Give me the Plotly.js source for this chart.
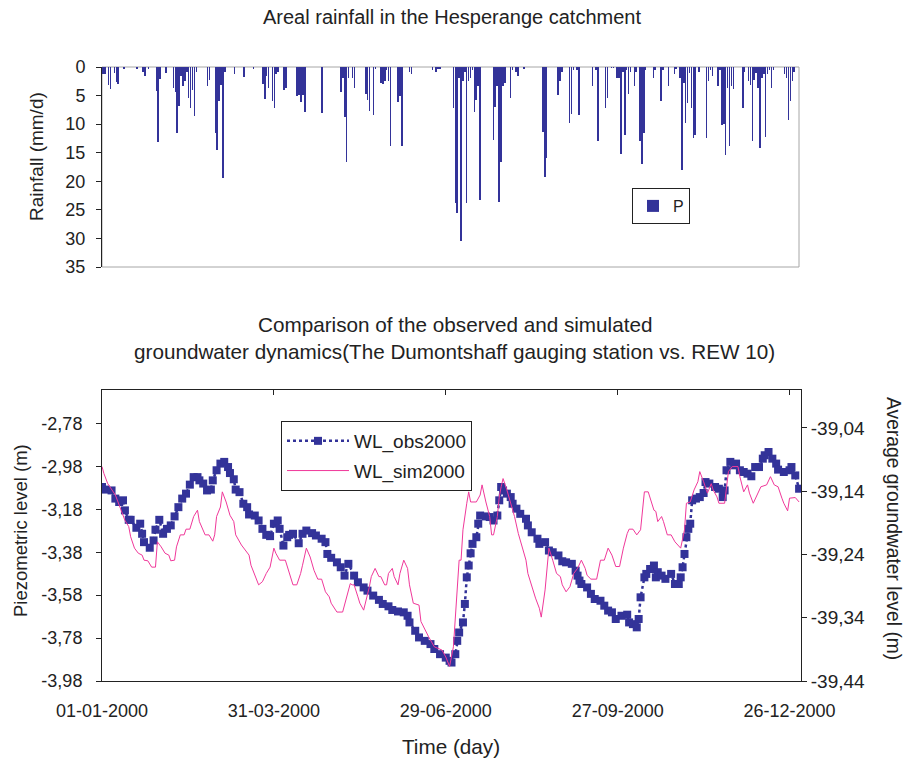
<!DOCTYPE html>
<html>
<head>
<meta charset="utf-8">
<script src="https://cdn.plot.ly/plotly-3.0.1.min.js"></script>
<style>html,body{margin:0;padding:0;background:#fff;}#chart{width:908px;height:759px;}</style>
</head>
<body>
<div id="chart"></div>
<script>
// ---- Rainfall (day offset from 01-01-2000, mm/d) ----
const rainDay = [0,1,3,4,6,7,8,11,18,21,22,24,28,29,30,33,37,38,39,40,41,42,43,44,45,46,47,48,49,55,56,59,60,61,62,63,64,69,74,79,84,85,86,87,89,90,91,92,95,96,102,103,104,105,106,115,125,126,127,128,129,131,132,138,139,140,142,143,146,147,148,149,150,151,155,156,157,161,162,173,175,176,177,184,185,186,187,188,189,190,191,192,193,194,195,196,197,198,205,206,207,208,209,210,211,214,215,217,218,221,231,232,233,239,240,241,245,246,247,249,250,257,259,260,264,265,267,268,270,271,272,273,274,275,276,277,279,280,282,283,284,285,289,290,293,294,297,300,301,303,304,305,306,307,308,309,310,311,313,317,318,319,320,323,324,325,326,327,328,329,330,331,336,337,339,340,341,342,343,344,345,346,347,348,349,350,351,352,358,359,360,361,362,363];
const rainVal = [1.3,1.3,3.2,3.9,1.0,2.7,2.9,0.3,0.3,0.8,1.6,0.3,4.2,13.2,2.1,1.1,3.7,4.4,11.6,6.8,1.5,3.4,2.5,0.8,5.4,7.2,4.0,8.5,0.8,3.4,2.3,11.6,14.5,5.9,3.1,19.4,0.8,1.3,1.8,0.3,2.9,5.6,1.6,3.6,5.9,7.2,1.3,0.8,4.1,3.7,5.1,4.9,6.2,4.9,7.8,8.0,4.4,1.9,8.8,16.6,1.9,1.9,3.7,4.7,5.7,7.7,8.4,0.4,2.8,3.0,2.5,0.5,2.4,13.9,6.2,5.1,13.9,0.8,1.3,0.5,0.8,0.3,0.3,7.2,23.8,25.5,1.9,30.4,2.5,0.8,23.8,2.5,1.9,0.5,7.8,5.7,3.4,23.3,12.8,7.0,3.4,23.6,16.6,3.4,2.8,5.4,0.5,0.8,1.6,0.3,11.3,19.2,16.0,4.9,2.4,0.8,9.8,8.3,0.5,0.5,8.4,3.4,0.5,13.0,7.2,5.4,0.2,0.2,2.0,2.0,15.3,0.8,11.9,0.5,4.7,0.8,3.4,0.8,12.9,17.0,11.6,0.6,2.0,0.5,5.9,0.5,3.4,1.3,0.3,1.9,18.0,2.8,9.8,6.3,1.1,7.2,12.5,11.9,0.8,12.5,2.5,0.5,1.6,3.4,0.5,10.1,10.0,15.4,3.7,13.9,3.4,3.8,7.2,0.8,2.5,3.1,12.9,2.2,1.1,3.7,14.2,1.9,1.3,12.3,1.3,0.5,3.7,0.5,1.3,1.9,9.2,6.0,2.5,0.8];

// ---- Observed piezometric level (m) ----
const obsDay = [0,2,5,7,9,11,12,14,15,18,20,21,22,25,27,28,30,32,34,36,38,40,42,44,46,48,50,51,53,55,57,58,60,62,64,66,67,69,70,72,74,76,77,80,82,84,86,88,90,92,93,95,97,98,100,103,105,107,110,112,115,117,118,120,123,125,127,129,132,134,137,139,142,145,147,150,152,155,158,160,161,164,166,169,172,174,177,180,182,183,185,186,187,189,190,191,192,193,194,196,197,198,201,203,205,207,208,209,210,212,214,215,217,219,222,223,225,228,229,232,234,236,239,241,243,246,248,249,250,251,254,256,258,261,263,265,267,269,272,275,276,278,280,281,282,284,285,287,289,290,291,293,295,298,300,302,303,304,305,306,307,308,309,311,313,315,316,318,321,323,325,326,327,329,331,332,334,336,338,340,342,344,346,347,349,351,353,354,357,360,361,363,365];
const obsVal = [-3.076,-3.088,-3.092,-3.130,-3.146,-3.138,-3.185,-3.229,-3.229,-3.266,-3.247,-3.294,-3.333,-3.359,-3.325,-3.275,-3.229,-3.294,-3.271,-3.255,-3.213,-3.170,-3.130,-3.107,-3.065,-3.030,-3.030,-3.045,-3.060,-3.092,-3.088,-3.045,-2.998,-2.967,-2.959,-2.983,-3.011,-3.040,-3.088,-3.100,-3.154,-3.170,-3.204,-3.209,-3.232,-3.271,-3.299,-3.305,-3.247,-3.232,-3.271,-3.349,-3.310,-3.299,-3.294,-3.338,-3.294,-3.279,-3.291,-3.302,-3.317,-3.333,-3.388,-3.406,-3.427,-3.450,-3.489,-3.434,-3.489,-3.520,-3.544,-3.559,-3.582,-3.602,-3.621,-3.632,-3.649,-3.656,-3.660,-3.676,-3.707,-3.746,-3.777,-3.793,-3.808,-3.831,-3.855,-3.871,-3.886,-3.894,-3.855,-3.793,-3.754,-3.707,-3.621,-3.497,-3.442,-3.385,-3.341,-3.310,-3.247,-3.209,-3.213,-3.216,-3.232,-3.209,-3.138,-3.076,-3.092,-3.107,-3.123,-3.154,-3.177,-3.201,-3.224,-3.255,-3.287,-3.317,-3.341,-3.333,-3.372,-3.380,-3.395,-3.422,-3.427,-3.434,-3.466,-3.489,-3.512,-3.528,-3.544,-3.574,-3.598,-3.606,-3.629,-3.652,-3.660,-3.691,-3.676,-3.671,-3.707,-3.715,-3.730,-3.691,-3.590,-3.497,-3.481,-3.458,-3.442,-3.497,-3.473,-3.489,-3.504,-3.481,-3.528,-3.528,-3.497,-3.450,-3.388,-3.310,-3.271,-3.247,-3.138,-3.130,-3.123,-3.104,-3.053,-3.060,-3.076,-3.084,-3.123,-3.092,-2.998,-2.959,-2.975,-2.967,-2.998,-3.006,-3.014,-3.026,-2.983,-2.983,-2.944,-2.928,-2.913,-2.944,-2.967,-2.995,-3.006,-2.998,-2.983,-3.022,-3.084];

// ---- Simulated average groundwater level (m) ----
const simDay = [0,1,3,5,7,8,10,12,14,15,17,19,21,22,24,26,28,29,31,33,35,36,38,39,41,43,44,46,48,50,51,54,56,58,59,60,62,63,65,67,69,70,73,75,77,78,80,82,84,86,88,90,91,93,96,98,100,102,104,105,107,109,111,113,115,117,119,120,123,126,128,130,131,132,134,135,137,138,140,141,143,145,146,148,149,150,152,153,155,156,158,160,161,163,166,167,170,171,174,176,178,180,182,184,185,187,188,189,191,192,193,196,198,199,201,203,204,205,207,208,209,210,212,214,216,218,220,222,223,225,227,229,230,232,233,234,236,238,240,241,243,245,247,249,251,253,254,256,259,261,263,265,267,269,271,273,275,276,278,280,282,284,286,289,290,291,293,294,296,298,300,303,305,306,308,310,312,313,315,317,319,320,322,323,326,327,328,330,333,334,336,338,339,341,343,345,348,350,352,354,356,357,359,360,363,365];
const simVal = [-39.101,-39.112,-39.128,-39.138,-39.146,-39.154,-39.170,-39.186,-39.196,-39.212,-39.230,-39.238,-39.241,-39.249,-39.250,-39.260,-39.260,-39.220,-39.228,-39.238,-39.241,-39.250,-39.249,-39.228,-39.209,-39.209,-39.200,-39.200,-39.180,-39.170,-39.188,-39.209,-39.209,-39.219,-39.209,-39.180,-39.165,-39.141,-39.157,-39.178,-39.188,-39.209,-39.225,-39.233,-39.241,-39.257,-39.273,-39.288,-39.283,-39.270,-39.260,-39.230,-39.238,-39.249,-39.249,-39.267,-39.288,-39.288,-39.270,-39.257,-39.230,-39.244,-39.265,-39.279,-39.279,-39.299,-39.307,-39.317,-39.331,-39.331,-39.307,-39.286,-39.288,-39.288,-39.307,-39.317,-39.328,-39.317,-39.291,-39.275,-39.262,-39.275,-39.275,-39.288,-39.288,-39.270,-39.262,-39.275,-39.288,-39.270,-39.249,-39.262,-39.288,-39.317,-39.320,-39.346,-39.365,-39.370,-39.386,-39.389,-39.391,-39.402,-39.417,-39.386,-39.339,-39.249,-39.249,-39.201,-39.159,-39.141,-39.157,-39.157,-39.146,-39.130,-39.157,-39.180,-39.209,-39.209,-39.180,-39.149,-39.133,-39.120,-39.138,-39.159,-39.180,-39.207,-39.228,-39.249,-39.270,-39.291,-39.309,-39.325,-39.339,-39.296,-39.259,-39.230,-39.249,-39.270,-39.275,-39.288,-39.299,-39.291,-39.270,-39.262,-39.249,-39.262,-39.273,-39.279,-39.279,-39.249,-39.249,-39.230,-39.241,-39.259,-39.259,-39.230,-39.207,-39.200,-39.200,-39.209,-39.201,-39.141,-39.141,-39.170,-39.172,-39.188,-39.180,-39.188,-39.209,-39.209,-39.220,-39.230,-39.201,-39.159,-39.157,-39.138,-39.125,-39.109,-39.125,-39.143,-39.128,-39.138,-39.149,-39.159,-39.159,-39.138,-39.109,-39.101,-39.101,-39.117,-39.141,-39.130,-39.143,-39.159,-39.146,-39.133,-39.130,-39.117,-39.130,-39.133,-39.151,-39.159,-39.171,-39.151,-39.150,-39.157];

// ---- Axis tick values ----
const rainTicks = [0,5,10,15,20,25,30,35];
const leftTicks = [-3.98,-3.78,-3.58,-3.38,-3.18,-2.98,-2.78];
const rightTicks = [-39.44,-39.34,-39.24,-39.14,-39.04];
const dateTickDays = [0,90,180,270,360];

const DAY = 86400000;
const T0 = Date.UTC(2000,0,1);
const toMs = d => T0 + d*DAY;
const comma = v => v.toFixed(2).replace('.', ',');

const W = 908, H = 759;
const px = x => x / W;
const py = y => 1 - y / H;

const FONT = 'Liberation Sans, Arial, Helvetica, sans-serif';
const TXT = '#222222';
const NAVY = '#333399';
const PINK = '#f0389a';

const traces = [
  {
    type: 'bar', name: 'P', x: rainDay.map(toMs), y: rainVal,
    xaxis: 'x', yaxis: 'y', legend: 'legend2',
    width: 0.8*DAY, marker: {color: NAVY, line: {width: 0}},
    hoverinfo: 'x+y'
  },
  {
    type: 'scatter', mode: 'lines+markers', name: 'WL_obs2000',
    x: obsDay.map(toMs), y: obsVal, xaxis: 'x2', yaxis: 'y2', legend: 'legend', legendgroup: 'g1',
    line: {color: NAVY, width: 2.5, dash: 'dot'},
    marker: {symbol: 'square', size: 8, color: NAVY}
  },
  {
    type: 'scatter', mode: 'lines', name: 'WL_sim2000',
    x: simDay.map(toMs), y: simVal, xaxis: 'x3', yaxis: 'y3', legend: 'legend', legendgroup: 'g2',
    line: {color: PINK, width: 1}
  }
];

const axBase = {showgrid: false, zeroline: false, tickfont: {family: FONT, size: 18, color: TXT}};

const layout = {
  width: W, height: H,
  margin: {l: 0, r: 0, t: 0, b: 0, autoexpand: false},
  paper_bgcolor: '#ffffff', plot_bgcolor: 'rgba(0,0,0,0)',
  font: {family: FONT, size: 18, color: TXT},
  bargap: 0,
  xaxis: Object.assign({}, axBase, {
    domain: [px(102), px(799)], anchor: 'y', type: 'date',
    range: [toMs(-0.5), toMs(365.5)], showticklabels: false, ticks: '', showline: false
  }),
  yaxis: Object.assign({}, axBase, {
    domain: [py(267), py(67)], anchor: 'x', range: [35, 0],
    tickvals: rainTicks, ticktext: rainTicks.map(String),
    ticks: 'outside', ticklen: 5, tickcolor: TXT, showline: true, linecolor: TXT, linewidth: 1,
    ticklabelstandoff: 7
  }),
  xaxis2: Object.assign({}, axBase, {
    domain: [px(102), px(801)], anchor: 'y2', type: 'date',
    range: [toMs(0), toMs(366)], tickvals: dateTickDays.map(toMs), tickformat: '%d-%m-%Y',
    ticks: '', showline: true, linecolor: TXT, linewidth: 1, ticklabelstandoff: 13
  }),
  xaxis3: Object.assign({}, axBase, {
    overlaying: 'x2', anchor: 'y2', side: 'top', type: 'date',
    range: [toMs(0), toMs(366)], tickvals: dateTickDays.map(toMs),
    ticks: 'inside', ticklen: 5, tickcolor: TXT, showticklabels: false,
    showline: true, linecolor: TXT, linewidth: 1
  }),
  yaxis2: Object.assign({}, axBase, {
    domain: [py(681), py(390)], anchor: 'x2', range: [-3.98, -2.624],
    tickvals: leftTicks, ticktext: leftTicks.map(comma),
    ticks: 'outside', ticklen: 5, tickcolor: TXT, showline: true, linecolor: TXT, linewidth: 1,
    ticklabelstandoff: 10
  }),
  yaxis3: Object.assign({}, axBase, {
    overlaying: 'y2', anchor: 'x2', side: 'right', range: [-39.44, -38.98],
    tickvals: rightTicks, ticktext: rightTicks.map(comma),
    tickfont: {family: FONT, size: 19, color: TXT},
    ticks: 'outside', ticklen: 5, tickcolor: TXT, showline: true, linecolor: TXT, linewidth: 1,
    ticklabelstandoff: 0
  }),
  showlegend: true,
  legend: {
    x: px(281), y: py(421), xanchor: 'left', yanchor: 'top',
    bgcolor: '#ffffff', bordercolor: TXT, borderwidth: 1,
    font: {family: FONT, size: 19, color: TXT}, tracegroupgap: 2, itemwidth: 62
  },
  legend2: {
    x: px(632), y: py(188), xanchor: 'left', yanchor: 'top',
    bgcolor: '#ffffff', bordercolor: TXT, borderwidth: 1,
    font: {family: FONT, size: 16, color: TXT}, itemwidth: 30
  },
  shapes: [
    {type: 'rect', xref: 'paper', yref: 'paper', x0: px(102), x1: px(799), y0: py(267), y1: py(67),
     line: {color: '#a6a6a6', width: 1}, fillcolor: 'rgba(0,0,0,0)', layer: 'below'}
  ],
  annotations: [
    {text: 'Areal rainfall in the Hesperange catchment', x: px(452), y: py(17), size: 20},
    {text: 'Comparison of the observed and simulated', x: px(455), y: py(324), size: 20.7},
    {text: 'groundwater dynamics(The Dumontshaff gauging station vs. REW 10)', x: px(455), y: py(351), size: 20.7},
    {text: 'Rainfall (mm/d)', x: px(36), y: py(157), textangle: -90, size: 19},
    {text: 'Piezometric level (m)', x: px(20), y: py(531), textangle: -90, size: 18.5},
    {text: 'Average groundwater level (m)', x: px(894), y: py(528), textangle: 90, size: 19.3},
    {text: 'Time (day)', x: px(451), y: py(746), size: 20.7}
  ].map(a => {
    const s = a.size; delete a.size;
    return Object.assign({xref: 'paper', yref: 'paper', showarrow: false,
      xanchor: 'center', yanchor: 'middle', font: {family: FONT, size: s, color: TXT}}, a);
  })
};

Plotly.newPlot('chart', traces, layout, {displayModeBar: false, staticPlot: true});
</script>
</body>
</html>
